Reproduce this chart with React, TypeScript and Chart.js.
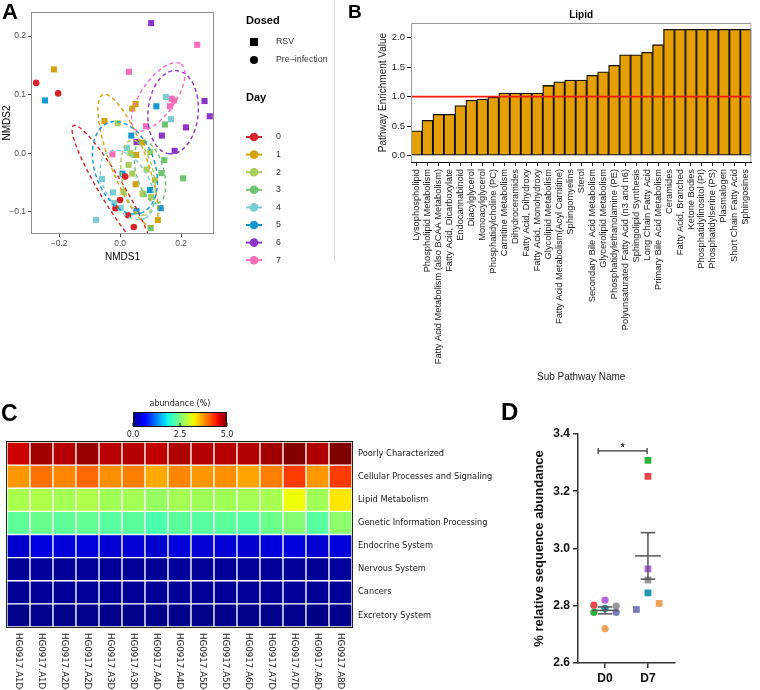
import React, { useEffect, useRef } from "react";
import { Chart, registerables } from "chart.js";
Chart.register(...registerables);

const SANS = '"Liberation Sans", Arial, Helvetica, sans-serif';
const DJV = '"DejaVu Sans", sans-serif';

// ---------------- Panel A : NMDS ----------------
const dayLabels = ["0", "1", "2", "3", "4", "5", "6", "7"];
const dayColors = ["#D7262B", "#D4A311", "#A8CD59", "#6DC36F", "#79CFD0", "#1597CF", "#8D35C8", "#F66DBA"];
const nmdsTicksX = [-0.2, 0.0, 0.2];
const nmdsTicksY = [-0.1, 0.0, 0.1, 0.2];
const nmdsDay0 = [[-0.275, 0.12], [-0.203, 0.102], [0.017, -0.04], [0.0, -0.08], [-0.015, -0.094], [0.026, -0.106], [0.045, -0.126]];
const nmdsDay1 = [[-0.217, 0.143], [0.051, 0.084], [0.04, 0.076], [-0.051, 0.055], [0.074, 0.018], [0.053, -0.003], [0.051, -0.053], [0.124, -0.114]];
const nmdsDay2 = [[-0.008, 0.051], [0.034, 0.0], [0.099, 0.002], [0.028, -0.02], [0.04, -0.035], [0.087, -0.028], [0.115, -0.046], [0.074, -0.069], [0.102, -0.075], [0.011, -0.066]];
const nmdsDay3 = [[0.147, 0.049], [0.145, -0.012], [0.207, -0.043], [0.136, -0.034], [0.077, -0.07], [0.1, -0.128]];
const nmdsDay4 = [[0.15, 0.096], [0.167, 0.058], [0.023, 0.009], [-0.059, -0.044], [-0.023, -0.067], [-0.019, -0.085], [0.002, -0.094], [-0.079, -0.114]];
const nmdsDay5 = [[-0.246, 0.09], [0.119, 0.08], [0.037, 0.03], [0.008, -0.035], [0.098, -0.063], [0.054, -0.099], [0.133, -0.094]];
const nmdsDay6 = [[0.102, 0.222], [0.277, 0.089], [0.294, 0.063], [0.216, 0.044], [0.137, 0.03], [0.179, 0.004], [0.054, 0.019]];
const nmdsDay7 = [[0.253, 0.185], [0.029, 0.139], [0.169, 0.093], [0.164, 0.08], [0.177, 0.09], [0.085, 0.046], [-0.025, -0.002]];
const nmdsByDay = [nmdsDay0, nmdsDay1, nmdsDay2, nmdsDay3, nmdsDay4, nmdsDay5, nmdsDay6, nmdsDay7];
// 95% ellipse per day: centre and two conjugate semi-axis vectors (data units)
const ellipseCenter = [[-0.026, -0.063], [0.026, -0.012], [0.059, -0.042], [0.098, -0.032], [0.023, -0.054], [0.016, -0.025], [0.174, 0.07], [0.125, 0.096]];
const ellipseAxisU = [[0.127, -0.11], [0.082, -0.112], [0.022, -0.064], [0.027, -0.053], [0.062, -0.056], [0.054, -0.077], [-0.012, -0.071], [0.075, 0.056]];
const ellipseAxisW = [[-0.034, -0.011], [-0.055, -0.011], [-0.052, -0.005], [-0.044, -0.006], [-0.063, -0.019], [-0.092, -0.018], [-0.082, 0.004], [0.046, -0.017]];

// ---------------- Panel B : Lipid enrichment ----------------
const lipidCategories = [
  "Lysophospholipid", "Phospholipid Metabolism", "Fatty Acid Metabolism (also BCAA Metabolism)", "Fatty Acid, Dicarboxylate",
  "Endocannabinoid", "Diacylglycerol", "Monoacylglycerol", "Phosphatidylcholine (PC)", "Carnitine Metabolism", "Dihydroceramides",
  "Fatty Acid, Dihydroxy", "Fatty Acid, Monohydroxy", "Glycolipid Metabolism", "Fatty Acid Metabolism(Acyl Carnitine)", "Sphingomyelins",
  "Sterol", "Secondary Bile Acid Metabolism", "Glycerolipid Metabolism", "Phosphatidylethanolamine (PE)", "Polyunsaturated Fatty Acid (n3 and n6)",
  "Sphingolipid Synthesis", "Long Chain Fatty Acid", "Primary Bile Acid Metabolism", "Ceramides", "Fatty Acid, Branched", "Ketone Bodies",
  "Phosphatidylinositol (PI)", "Phosphatidylserine (PS)", "Plasmalogen", "Short Chain Fatty Acid", "Sphingosines",
];
const lipidEnrichment = [0.42, 0.6, 0.7, 0.7, 0.85, 0.94, 0.96, 0.99, 1.06, 1.06, 1.06, 1.06, 1.19, 1.25, 1.28, 1.28, 1.36, 1.42, 1.53, 1.71, 1.71, 1.75, 1.88, 2.14, 2.14, 2.14, 2.14, 2.14, 2.14, 2.14, 2.14];
const enrichmentThreshold = 1.0;

// ---------------- Panel C : heatmap ----------------
const sampleIds = ["HG0917.A1D0", "HG0917.A1D7", "HG0917.A2D0", "HG0917.A2D7", "HG0917.A3D0", "HG0917.A3D7", "HG0917.A4D0", "HG0917.A4D7", "HG0917.A5D0", "HG0917.A5D7", "HG0917.A6D0", "HG0917.A7D0", "HG0917.A7D7", "HG0917.A8D0", "HG0917.A8D7"];
const pathwayNames = ["Poorly Characterized", "Cellular Processes and Signaling", "Lipid Metabolism", "Genetic Information Processing", "Endocrine System", "Nervous System", "Cancers", "Excretory System"];
const poorlyCharacterized = [4.67, 4.85, 4.77, 4.9, 4.75, 4.77, 4.72, 4.8, 4.77, 4.77, 4.78, 4.85, 4.98, 4.8, 5.0];
const cellularProcesses = [3.75, 3.95, 3.84, 4.0, 3.8, 3.88, 3.65, 3.84, 3.75, 3.8, 3.68, 3.88, 4.23, 3.75, 4.23];
const lipidMetabolism = [2.78, 2.8, 2.74, 2.8, 2.72, 2.74, 2.66, 2.74, 2.72, 2.72, 2.74, 2.76, 3.2, 2.72, 3.33];
const geneticInformation = [2.32, 2.38, 2.32, 2.35, 2.28, 2.3, 2.2, 2.3, 2.28, 2.3, 2.25, 2.4, 2.55, 2.28, 2.6];
const endocrineSystem = [0.33, 0.42, 0.38, 0.4, 0.36, 0.37, 0.34, 0.4, 0.36, 0.37, 0.34, 0.4, 0.4, 0.36, 0.38];
const nervousSystem = [0.1, 0.12, 0.1, 0.11, 0.1, 0.1, 0.09, 0.11, 0.1, 0.1, 0.1, 0.11, 0.1, 0.1, 0.12];
const cancers = [0.1, 0.11, 0.1, 0.1, 0.1, 0.1, 0.1, 0.1, 0.1, 0.1, 0.1, 0.1, 0.11, 0.1, 0.1];
const excretorySystem = [0.04, 0.05, 0.04, 0.05, 0.04, 0.04, 0.04, 0.04, 0.04, 0.04, 0.04, 0.04, 0.05, 0.03, 0.04];
const abundanceRows = [poorlyCharacterized, cellularProcesses, lipidMetabolism, geneticInformation, endocrineSystem, nervousSystem, cancers, excretorySystem];
const abundanceMax = 5.0;
const colorbarTicks = [0, 2.5, 5.0];

// ---------------- Panel D : D0 vs D7 ----------------
const groupLabels = ["D0", "D7"];
const mouseColors = ["#E8484A", "#2DB33A", "#B464DC", "#1E96AA", "#979797", "#7A7ABE", "#F0A45A"];
const d0Values = [2.802, 2.777, 2.82, 2.791, 2.799, 2.777, 2.72];
const d7Values = [3.252, 3.308, 2.929, 2.845, 2.89, 2.787, 2.808];
const d0Jitter = [-0.26, -0.26, 0, 0, 0.26, 0.26, 0];
const d7Jitter = [0, 0, 0, 0, 0, -0.27, 0.26];
const sigBracketY = 3.341;

// ---------- helpers ----------
const jetR = [[0, 0], [0.35, 0], [0.66, 1], [0.89, 1], [1, 0.5]];
const jetG = [[0, 0], [0.125, 0], [0.375, 1], [0.64, 1], [0.91, 0], [1, 0]];
const jetB = [[0, 0.5], [0.11, 1], [0.34, 1], [0.65, 0], [1, 0]];
function seg(p: number[][], v: number) {
  for (let i = 1; i < p.length; i++) {
    if (v <= p[i][0]) {
      const t = (v - p[i - 1][0]) / (p[i][0] - p[i - 1][0]);
      return p[i - 1][1] + t * (p[i][1] - p[i - 1][1]);
    }
  }
  return p[p.length - 1][1];
}
function jet(value: number) {
  const v = Math.max(0, Math.min(1, value / abundanceMax));
  return `rgb(${Math.round(seg(jetR, v) * 255)},${Math.round(seg(jetG, v) * 255)},${Math.round(seg(jetB, v) * 255)})`;
}
const fmtA = (v: any) => {
  const n = Number(v);
  const s = Math.abs(n).toFixed(1);
  return n < -1e-9 ? "\u2212" + s : s;
};
const mean = (a: number[]) => a.reduce((s, v) => s + v, 0) / a.length;
const sem = (a: number[]) => {
  const m = mean(a);
  return Math.sqrt(a.reduce((s, v) => s + (v - m) * (v - m), 0) / (a.length - 1)) / Math.sqrt(a.length);
};

// ---------- Chart A ----------
const nmdsPlugin = {
  id: "nmdsExtras",
  afterDatasetsDraw(chart: any) {
    const { ctx, chartArea: a, scales } = chart;
    ctx.save();
    ctx.beginPath();
    ctx.rect(a.left, a.top, a.right - a.left, a.bottom - a.top);
    ctx.clip();
    ctx.lineWidth = 1.4;
    ctx.setLineDash([4, 3]);
    ellipseCenter.forEach((c, i) => {
      ctx.strokeStyle = dayColors[i];
      ctx.beginPath();
      for (let k = 0; k <= 72; k++) {
        const t = (k / 72) * Math.PI * 2;
        const dx = c[0] + ellipseAxisU[i][0] * Math.cos(t) + ellipseAxisW[i][0] * Math.sin(t);
        const dy = c[1] + ellipseAxisU[i][1] * Math.cos(t) + ellipseAxisW[i][1] * Math.sin(t);
        const px = scales.x.getPixelForValue(dx);
        const py = scales.y.getPixelForValue(dy);
        if (k === 0) ctx.moveTo(px, py);
        else ctx.lineTo(px, py);
      }
      ctx.stroke();
    });
    ctx.restore();
  },
  afterDraw(chart: any) {
    const { ctx, chartArea: a } = chart;
    ctx.save();
    ctx.strokeStyle = "#8c8c8c";
    ctx.lineWidth = 1;
    ctx.strokeRect(a.left + 0.5, a.top + 0.5, a.right - a.left - 1, a.bottom - a.top - 1);
    // legend
    const kx = 254;
    const tx = 276;
    ctx.fillStyle = "#000";
    ctx.textBaseline = "middle";
    ctx.textAlign = "left";
    ctx.font = `bold 11px ${SANS}`;
    ctx.fillText("Dosed", 246, 21);
    ctx.fillRect(kx - 4, 42 - 4, 8, 8);
    ctx.beginPath();
    ctx.arc(kx, 60, 4, 0, Math.PI * 2);
    ctx.fill();
    ctx.font = `8.8px ${SANS}`;
    ctx.fillStyle = "#333";
    ctx.fillText("RSV", tx, 42);
    ctx.fillText("Pre\u2212infection", tx, 60);
    ctx.fillStyle = "#000";
    ctx.font = `bold 11px ${SANS}`;
    ctx.fillText("Day", 246, 98);
    dayLabels.forEach((d, i) => {
      const y = 137 + i * 17.6;
      ctx.strokeStyle = dayColors[i];
      ctx.fillStyle = dayColors[i];
      ctx.lineWidth = 2;
      ctx.beginPath();
      ctx.moveTo(kx - 8, y);
      ctx.lineTo(kx + 8, y);
      ctx.stroke();
      ctx.beginPath();
      ctx.arc(kx, y, 4.3, 0, Math.PI * 2);
      ctx.fill();
      ctx.fillStyle = "#333";
      ctx.font = `8.8px ${SANS}`;
      ctx.fillText(d, tx, y);
    });
    ctx.restore();
  },
};

function makeA(): any {
  return {
    type: "scatter",
    data: {
      datasets: nmdsByDay.map((pts, i) => ({
        label: "Day " + dayLabels[i],
        data: pts.map((p) => ({ x: p[0], y: p[1] })),
        pointStyle: i === 0 ? "circle" : "rect",
        pointRadius: i === 0 ? 3.3 : 4.3,
        backgroundColor: dayColors[i],
        borderWidth: 0,
      })),
    },
    options: {
      responsive: false,
      animation: false,
      events: [],
      layout: { padding: { left: 0, right: 120, top: 12, bottom: 0 } },
      plugins: { legend: { display: false }, tooltip: { enabled: false } },
      scales: {
        x: {
          type: "linear", min: -0.292, max: 0.308,
          afterFit: (s: any) => { s.height = 38; },
          afterBuildTicks: (s: any) => { s.ticks = nmdsTicksX.map((v) => ({ value: v })); },
          ticks: { callback: fmtA, font: { family: SANS, size: 8.5 }, color: "#4d4d4d", padding: 2 },
          grid: { drawOnChartArea: false, tickLength: 3, color: "#4d4d4d" },
          border: { display: false },
          title: { display: true, text: "NMDS1", font: { family: SANS, size: 10 }, color: "#000", padding: { top: 0, bottom: 9 } },
        },
        y: {
          min: -0.138, max: 0.241,
          afterFit: (s: any) => { s.width = 31; },
          afterBuildTicks: (s: any) => { s.ticks = nmdsTicksY.map((v) => ({ value: v })); },
          ticks: { callback: fmtA, font: { family: SANS, size: 8.5 }, color: "#4d4d4d", padding: 2 },
          grid: { drawOnChartArea: false, tickLength: 3, color: "#4d4d4d" },
          border: { display: false },
          title: { display: true, text: "NMDS2", font: { family: SANS, size: 10 }, color: "#000", padding: { top: 1, bottom: 0 } },
        },
      },
    },
    plugins: [nmdsPlugin],
  };
}

// ---------- Chart B ----------
const lipidPlugin = {
  id: "lipidExtras",
  afterDatasetsDraw(chart: any) {
    const { ctx, chartArea: a, scales } = chart;
    const y = scales.y.getPixelForValue(enrichmentThreshold);
    ctx.save();
    ctx.strokeStyle = "#FF1A00";
    ctx.lineWidth = 1.6;
    ctx.beginPath();
    ctx.moveTo(a.left, y);
    ctx.lineTo(a.right, y);
    ctx.stroke();
    ctx.restore();
  },
  afterDraw(chart: any) {
    const { ctx, chartArea: a } = chart;
    ctx.save();
    ctx.strokeStyle = "#9a9a9a";
    ctx.lineWidth = 1;
    ctx.beginPath();
    ctx.moveTo(a.left + 0.5, a.bottom);
    ctx.lineTo(a.left + 0.5, a.top + 0.5);
    ctx.lineTo(a.right - 0.5, a.top + 0.5);
    ctx.lineTo(a.right - 0.5, a.bottom);
    ctx.stroke();
    ctx.fillStyle = "#000";
    ctx.font = `bold 10px ${SANS}`;
    ctx.textAlign = "center";
    ctx.textBaseline = "middle";
    ctx.fillText("Lipid", (a.left + a.right) / 2, 15);
    ctx.restore();
  },
};

function makeB(): any {
  return {
    type: "bar",
    data: {
      labels: lipidCategories,
      datasets: [{
        data: lipidEnrichment,
        backgroundColor: "#E69F00",
        borderColor: "#111",
        borderWidth: 1.3,
        borderSkipped: false,
        categoryPercentage: 1,
        barPercentage: 1,
      }],
    },
    options: {
      responsive: false,
      animation: false,
      events: [],
      layout: { padding: { left: 0, right: 1, top: 23, bottom: 0 } },
      plugins: { legend: { display: false }, tooltip: { enabled: false } },
      scales: {
        x: {
          afterFit: (s: any) => { s.height = 228; },
          ticks: { autoSkip: false, minRotation: 90, maxRotation: 90, font: { family: SANS, size: 9.3 }, color: "#1a1a1a", padding: 3 },
          grid: { drawOnChartArea: false, offset: false, tickLength: 4, color: "#000" },
          border: { display: true, color: "#000", width: 1 },
          title: { display: true, text: "Sub Pathway Name", font: { family: SANS, size: 10 }, color: "#1a1a1a", padding: { top: 0, bottom: 7 } },
        },
        y: {
          min: -0.107, max: 2.247,
          afterFit: (s: any) => { s.width = 71; },
          ticks: { stepSize: 0.5, includeBounds: false, callback: (v: any) => Number(v).toFixed(1), font: { family: SANS, size: 9.5 }, color: "#222", padding: 2 },
          grid: { drawOnChartArea: false, tickLength: 4, color: "#000" },
          border: { display: false },
          title: { display: true, text: "Pathway Enrichment Value", font: { family: SANS, size: 10 }, color: "#1a1a1a", padding: { top: 37, bottom: 0 } },
        },
      },
    },
    plugins: [lipidPlugin],
  };
}

// ---------- Chart C ----------
const heatPlugin = {
  id: "heatExtras",
  afterDraw(chart: any) {
    const { ctx, chartArea: a, scales } = chart;
    ctx.save();
    ctx.strokeStyle = "#222";
    ctx.lineWidth = 1;
    ctx.strokeRect(a.left - 0.5, a.top - 0.5, a.right - a.left + 1, a.bottom - a.top + 1);
    ctx.fillStyle = "#1a1a1a";
    ctx.font = `8.3px ${DJV}`;
    ctx.textAlign = "left";
    ctx.textBaseline = "middle";
    pathwayNames.forEach((name, i) => {
      const y = scales.y.getPixelForValue(pathwayNames.length - 0.5 - i);
      ctx.fillText(name, a.right + 6, y);
    });
    ctx.font = `8.7px ${DJV}`;
    sampleIds.forEach((id, i) => {
      const x = scales.x.getPixelForValue(i);
      ctx.save();
      ctx.translate(x, a.bottom + 6);
      ctx.rotate(Math.PI / 2);
      ctx.fillText(id, 0, 0);
      ctx.restore();
    });
    // colour bar legend
    const cbL = 133, cbR = 227, cbT = 32, cbB = 47;
    const g = ctx.createLinearGradient(cbL, 0, cbR, 0);
    for (let k = 0; k <= 40; k++) g.addColorStop(k / 40, jet((k / 40) * abundanceMax));
    ctx.fillStyle = g;
    ctx.fillRect(cbL, cbT, cbR - cbL, cbB - cbT);
    ctx.strokeStyle = "#111";
    ctx.strokeRect(cbL + 0.5, cbT + 0.5, cbR - cbL - 1, cbB - cbT - 1);
    ctx.fillStyle = "#1a1a1a";
    ctx.font = `8px ${DJV}`;
    ctx.textAlign = "center";
    ctx.fillText("abundance (%)", (cbL + cbR) / 2, 24);
    colorbarTicks.forEach((t) => {
      const x = cbL + ((cbR - cbL) * t) / abundanceMax;
      ctx.beginPath();
      ctx.moveTo(x, cbB - 1);
      ctx.lineTo(x, cbB - 4);
      ctx.stroke();
      ctx.fillText(t.toFixed(1), x, 55);
    });
    ctx.restore();
  },
};

function makeC(): any {
  const bottomUp = abundanceRows.slice().reverse();
  return {
    type: "bar",
    data: {
      labels: sampleIds,
      datasets: bottomUp.map((row, i) => ({
        label: pathwayNames[pathwayNames.length - 1 - i],
        data: row.map(() => 1),
        backgroundColor: row.map((v) => jet(v)),
        borderColor: "#ffffff",
        borderWidth: 1,
        borderSkipped: false,
        categoryPercentage: 1,
        barPercentage: 1,
      })),
    },
    options: {
      responsive: false,
      animation: false,
      events: [],
      layout: { padding: { left: 7, right: 153, top: 62, bottom: 63 } },
      plugins: { legend: { display: false }, tooltip: { enabled: false } },
      scales: {
        x: { stacked: true, display: false },
        y: { stacked: true, display: false, min: 0, max: pathwayNames.length },
      },
    },
    plugins: [heatPlugin],
  };
}

// ---------- Chart D ----------
const dotPlugin = {
  id: "dotExtras",
  afterDatasetsDraw(chart: any) {
    const { ctx, scales } = chart;
    const { x, y } = scales;
    ctx.save();
    ctx.strokeStyle = "#555";
    ctx.lineWidth = 1.5;
    [d0Values, d7Values].forEach((vals, g) => {
      const m = mean(vals);
      const e = sem(vals);
      const line = (x1: number, y1: number, x2: number, y2: number) => {
        ctx.beginPath();
        ctx.moveTo(x.getPixelForValue(x1), y.getPixelForValue(y1));
        ctx.lineTo(x.getPixelForValue(x2), y.getPixelForValue(y2));
        ctx.stroke();
      };
      line(g - 0.3, m, g + 0.3, m);
      line(g, m - e, g, m + e);
      line(g - 0.17, m - e, g + 0.17, m - e);
      line(g - 0.17, m + e, g + 0.17, m + e);
    });
    // significance bracket
    ctx.strokeStyle = "#333";
    ctx.lineWidth = 1.2;
    const by = y.getPixelForValue(sigBracketY);
    const bx1 = x.getPixelForValue(-0.16);
    const bx2 = x.getPixelForValue(0.98);
    ctx.beginPath();
    ctx.moveTo(bx1, by - 3);
    ctx.lineTo(bx1, by + 3);
    ctx.moveTo(bx1, by);
    ctx.lineTo(bx2, by);
    ctx.moveTo(bx2, by - 3);
    ctx.lineTo(bx2, by + 3);
    ctx.stroke();
    ctx.fillStyle = "#222";
    ctx.font = `bold 10px ${SANS}`;
    ctx.textAlign = "center";
    ctx.textBaseline = "middle";
    ctx.fillText("*", (bx1 + bx2) / 2, by - 3);
    ctx.restore();
  },
};

function makeD(): any {
  return {
    type: "scatter",
    data: {
      datasets: [
        {
          label: "D0",
          data: d0Values.map((v, i) => ({ x: 0 + d0Jitter[i], y: v })),
          pointStyle: "circle",
          pointRadius: 3.6,
          backgroundColor: mouseColors,
          borderWidth: 0,
        },
        {
          label: "D7",
          data: d7Values.map((v, i) => ({ x: 1 + d7Jitter[i], y: v })),
          pointStyle: "rect",
          pointRadius: 4.8,
          backgroundColor: mouseColors,
          borderWidth: 0,
        },
      ],
    },
    options: {
      responsive: false,
      animation: false,
      events: [],
      layout: { padding: { left: 52, right: 85, top: 54, bottom: 0 } },
      plugins: { legend: { display: false }, tooltip: { enabled: false } },
      scales: {
        x: {
          type: "linear", min: -0.63, max: 1.63,
          afterFit: (s: any) => { s.height = 27; },
          afterBuildTicks: (s: any) => { s.ticks = groupLabels.map((_, i) => ({ value: i })); },
          ticks: { callback: (v: any) => groupLabels[Math.round(Number(v))], font: { family: SANS, size: 12, weight: "bold" }, color: "#111", padding: 3 },
          grid: { drawOnChartArea: false, tickLength: 5, color: "#333", lineWidth: 1.5 },
          border: { color: "#333", width: 1.5 },
        },
        y: {
          min: 2.6, max: 3.4,
          afterFit: (s: any) => { s.width = 46; },
          ticks: { stepSize: 0.2, includeBounds: false, callback: (v: any) => Number(v).toFixed(1), font: { family: SANS, size: 12, weight: "bold" }, color: "#111", padding: 3 },
          grid: { drawOnChartArea: false, tickLength: 5, color: "#333", lineWidth: 1.5 },
          border: { color: "#333", width: 1.5 },
          title: { display: true, text: "% relative sequence abundance", font: { family: SANS, size: 13, weight: "bold" }, color: "#111", padding: { top: 0, bottom: 0 } },
        },
      },
    },
    plugins: [dotPlugin],
  };
}

function ChartCanvas(props: { left: number; top: number; width: number; height: number; make: () => any }) {
  const ref = useRef<HTMLCanvasElement | null>(null);
  useEffect(() => {
    const chart = new Chart(ref.current as HTMLCanvasElement, props.make());
    return () => chart.destroy();
  }, []);
  return (
    <canvas
      ref={ref}
      width={props.width}
      height={props.height}
      style={{ position: "absolute", left: props.left, top: props.top, width: props.width, height: props.height }}
    />
  );
}

const letter = (text: string, left: number, top: number, size: number) => (
  <div style={{ position: "absolute", left, top, fontFamily: SANS, fontWeight: "bold", fontSize: size, lineHeight: 1, color: "#000" }}>{text}</div>
);

export default function App() {
  return (
    <div style={{ position: "absolute", left: 0, top: 0, width: 760, height: 690, background: "#fff", overflow: "hidden" }}>
      <ChartCanvas left={0} top={0} width={334} height={272} make={makeA} />
      <div style={{ position: "absolute", left: 334, top: 0, width: 1, height: 262, background: "#dcdcdc" }} />
      <ChartCanvas left={340} top={0} width={420} height={390} make={makeB} />
      <ChartCanvas left={0} top={380} width={505} height={310} make={makeC} />
      <ChartCanvas left={480} top={380} width={280} height={310} make={makeD} />
      {letter("A", 2, 1, 22)}
      {letter("B", 348, 2, 19)}
      {letter("C", 1, 402, 23)}
      {letter("D", 501, 400, 24)}
    </div>
  );
}
